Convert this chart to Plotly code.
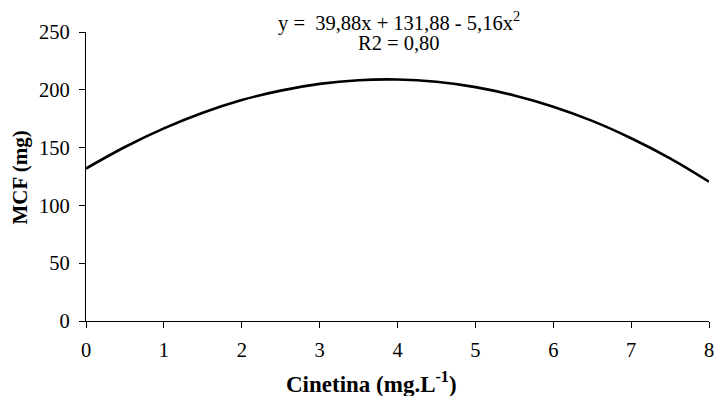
import plotly.graph_objects as go

# Values
cinetina = [0, 0.5, 1, 1.5, 2, 2.5, 3, 3.5, 4, 4.5, 5, 5.5, 6, 6.5, 7, 7.5, 8]
mcf = [131.9, 150.5, 166.6, 180.1, 191.1, 199.3, 205.1, 208.3, 208.9, 206.9,
       202.3, 195.1, 185.4, 173.1, 158.1, 140.7, 120.5]
x_ticks = [0, 1, 2, 3, 4, 5, 6, 7, 8]
y_ticks = [0, 50, 100, 150, 200, 250]
equation = "y =  39,88x + 131,88 - 5,16x<sup>2</sup>"
r2_text = "R2 = 0,80"
x_title = "<b>Cinetina (mg.L<sup>-1</sup>)</b>"
y_title = "<b>MCF (mg)</b>"

FONT = "Liberation Serif"
W, H = 715, 396
L, R, T, B = 86, 6, 32, 75
pw = W - L - R
ph = H - T - B


def px2paper(xp, yp):
    return (xp - L) / pw, (H - B - yp) / ph


fig = go.Figure()
fig.add_trace(go.Scatter(x=cinetina, y=mcf, mode="lines",
                         line=dict(color="black", width=2.6, shape="spline"),
                         showlegend=False, hoverinfo="skip"))

axis_common = dict(showgrid=False, zeroline=False, showline=True,
                   linecolor="black", linewidth=1.3, automargin=False,
                   ticks="outside", ticklen=6, tickcolor="black", tickwidth=1.3,
                   ticklabeloverflow="allow",
                   tickfont=dict(family=FONT, size=20.5, color="black"))

fig.update_layout(
    width=W, height=H,
    margin=dict(l=L, r=R, t=T, b=B),
    paper_bgcolor="white", plot_bgcolor="white",
    font=dict(family=FONT, size=20, color="black"),
    xaxis=dict(range=[0, 8], tickvals=x_ticks, ticklabelstandoff=4, **axis_common),
    yaxis=dict(range=[0, 250], tickvals=y_ticks, ticklabelstandoff=5, **axis_common),
)

ann_specs = [
    (equation, 398.5, 21, 0, 20.5),
    (r2_text, 398.5, 43, 0, 20.5),
    (x_title, 371, 382, 0, 23),
    (y_title, 19, 177.5, -90, 21),
]
anns = []
for text, xp, yp, ang, sz in ann_specs:
    xx, yy = px2paper(xp, yp)
    anns.append(dict(text=text, x=xx, y=yy, xref="paper", yref="paper",
                     showarrow=False, xanchor="center", yanchor="middle",
                     textangle=ang, font=dict(family=FONT, size=sz, color="black")))
fig.update_layout(annotations=anns)

fig.write_html("out.html",
               config={"displayModeBar": False},
               post_script="document.body.style.margin='0';"
                           "document.body.style.overflow='hidden';")
